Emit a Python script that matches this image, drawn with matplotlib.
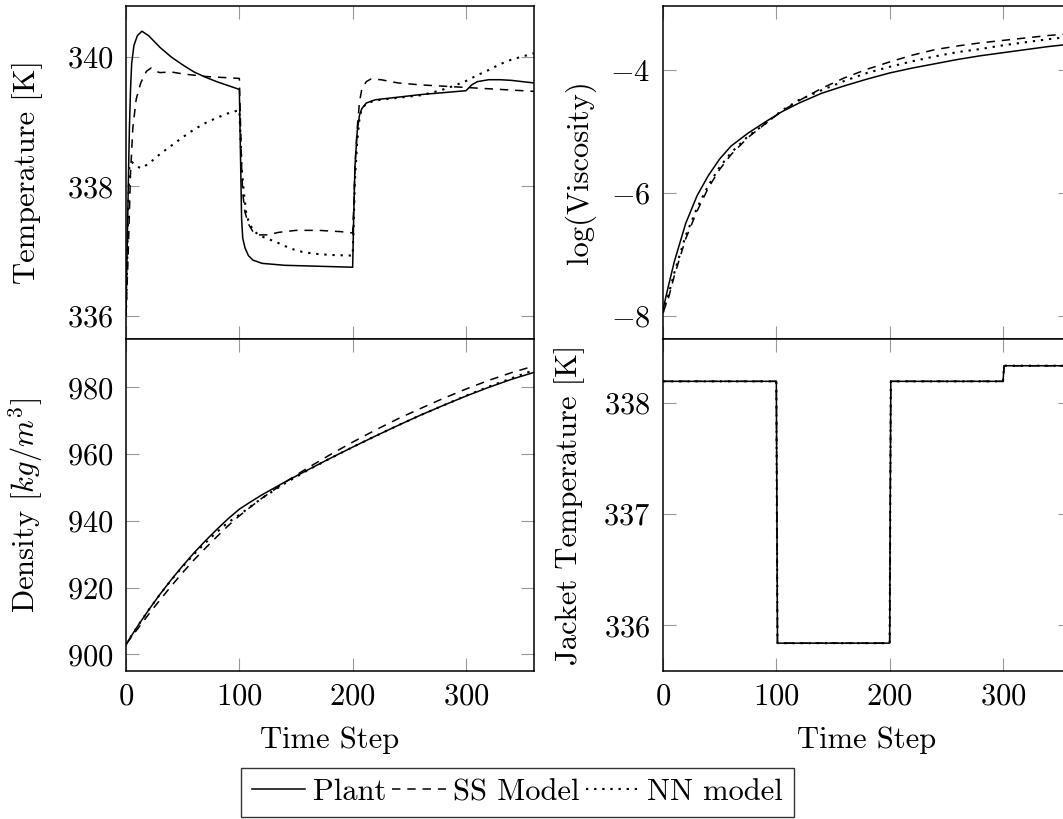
import matplotlib
matplotlib.use("Agg")
import matplotlib.pyplot as plt

plt.rcParams['font.family'] = 'serif'
plt.rcParams['font.serif'] = ['cmr10']
plt.rcParams['mathtext.fontset'] = 'cm'
plt.rcParams['axes.formatter.use_mathtext'] = True
plt.rcParams['font.size'] = 22

# ---- reactor temperature (top left) ----
temp_plant_t = [0, 1, 2, 3, 4, 5, 7, 10, 14, 20, 30, 40, 50, 60, 70, 80, 90, 100,
                101, 102, 103, 105, 108, 112, 120, 140, 160, 180, 200,
                201, 202, 204, 206, 208, 212, 220, 240, 260, 280, 300,
                305, 310, 320, 330, 340, 350, 360]
temp_plant = [336.05, 337.0, 338.0, 338.9, 339.5, 339.9, 340.18, 340.33, 340.4, 340.33,
              340.15, 340.0, 339.88, 339.77, 339.69, 339.62, 339.56, 339.5,
              338.5, 337.5, 337.2, 337.05, 336.93, 336.86, 336.81, 336.78, 336.77, 336.76, 336.75,
              337.6, 338.3, 338.85, 339.1, 339.2, 339.29, 339.34, 339.38, 339.42, 339.45, 339.48,
              339.57, 339.62, 339.65, 339.65, 339.64, 339.62, 339.6]

temp_ss_t = [0, 2, 4, 6, 9, 13, 18, 22, 26, 30, 40, 50, 60, 70, 80, 90, 100,
             101, 102, 103, 105, 108, 112, 118, 125, 135, 150, 170, 190, 200,
             201, 202, 204, 206, 208, 212, 216, 225, 240, 260, 280, 300, 320, 340, 360]
temp_ss = [336.0, 337.0, 338.2, 338.9, 339.35, 339.6, 339.78, 339.83, 339.78, 339.76,
           339.77, 339.74, 339.72, 339.7, 339.69, 339.68, 339.67,
           339.0, 338.3, 337.9, 337.6, 337.42, 337.3, 337.25, 337.25, 337.29, 337.32, 337.32, 337.3, 337.28,
           337.7, 338.3, 338.9, 339.3, 339.5, 339.62, 339.66, 339.65, 339.6, 339.57, 339.55, 339.53,
           339.51, 339.49, 339.47]

temp_nn_t = [0, 1, 2, 3, 5, 8, 13, 20, 30, 40, 50, 60, 70, 80, 90, 100,
             101, 102, 104, 106, 108, 112, 118, 125, 135, 145, 155, 165, 180, 200,
             201, 202, 204, 206, 208, 212, 220, 240, 260, 270, 280, 290, 300,
             310, 320, 330, 340, 350, 360]
temp_nn = [336.0, 336.8, 337.7, 338.3, 338.38, 338.33, 338.28, 338.35, 338.5, 338.63,
           338.76, 338.88, 338.98, 339.06, 339.13, 339.18,
           338.8, 338.3, 337.9, 337.6, 337.47, 337.32, 337.24, 337.19, 337.12, 337.04, 336.99,
           336.96, 336.94, 336.93,
           337.5, 338.1, 338.7, 339.05, 339.2, 339.28, 339.33, 339.37, 339.41, 339.45, 339.5,
           339.56, 339.63, 339.72, 339.8, 339.89, 339.96, 340.01, 340.06]

# ---- log viscosity (top right) ----
visc_t = [0, 5, 10, 20, 30, 40, 50, 60, 75, 90, 105, 120, 140, 160, 180, 200,
          220, 240, 260, 280, 300, 320, 340, 360]
visc_plant = [-7.9, -7.5, -7.12, -6.5, -6.05, -5.72, -5.45, -5.24, -5.03, -4.85, -4.68,
              -4.54, -4.38, -4.26, -4.15, -4.05, -3.97, -3.9, -3.83, -3.77, -3.72,
              -3.67, -3.62, -3.58]
visc_ss = [-7.95, -7.7, -7.35, -6.75, -6.3, -5.92, -5.62, -5.38, -5.1, -4.88, -4.67,
           -4.5, -4.3, -4.13, -3.99, -3.87, -3.76, -3.67, -3.61, -3.56, -3.52,
           -3.48, -3.44, -3.41]
visc_nn = [-7.95, -7.65, -7.3, -6.7, -6.25, -5.88, -5.58, -5.35, -5.08, -4.88, -4.66,
           -4.49, -4.33, -4.18, -4.05, -3.95, -3.86, -3.78, -3.71, -3.66, -3.6,
           -3.55, -3.5, -3.46]

# ---- density (bottom left) ----
dens_t = [0, 10, 20, 30, 40, 50, 60, 70, 80, 90, 100, 110, 120, 140, 160, 180, 200,
          220, 240, 260, 280, 300, 320, 340, 360]
dens_plant = [903, 908.3, 913.3, 918, 922.4, 926.5, 930.4, 934.0, 937.4, 940.6, 943.5,
              945.7, 947.8, 951.6, 955.2, 958.7, 962.1, 965.4, 968.6, 971.7, 974.6,
              977.4, 980, 982.4, 984.5]
dens_ss = [903, 907.5, 912, 916.3, 920.5, 924.5, 928.3, 931.8, 935.2, 938.5, 941.5,
           944.2, 946.8, 951.5, 955.8, 959.8, 963.6, 967.2, 970.6, 973.7, 976.7,
           979.5, 982.1, 984.4, 986.4]
dens_nn = [903, 908.3, 913.3, 918, 922.3, 926.3, 930, 933.4, 936.6, 939.5, 941.8,
           944.3, 946.8, 951.2, 955.1, 958.7, 962.1, 965.4, 968.6, 971.7, 974.6,
           977.5, 980.2, 982.7, 985.2]

# ---- jacket temperature (bottom right), same input for all three ----
jacket_t = [0, 100, 101, 200, 201, 300, 301, 360]
jacket_T = [338.19, 338.19, 335.84, 335.84, 338.19, 338.19, 338.33, 338.33]

labels = ['Plant', 'SS Model', 'NN model']
styles = [dict(color='black', lw=1.1),
          dict(color='black', lw=1.1, dashes=(5.5, 4.5)),
          dict(color='black', lw=1.5, dashes=(1.1, 2.8))]

W, H = 1063, 819
fig = plt.figure(figsize=(W / 100, H / 100), dpi=100)


def make_ax(x0, y0, x1, y1):
    ax = fig.add_axes([x0 / W, 1 - y1 / H, (x1 - x0) / W, (y1 - y0) / H])
    ax.tick_params(direction='in', which='both', top=True, right=True,
                   length=9.5, width=0.8, color='#999999', pad=9)
    for s in ax.spines.values():
        s.set_linewidth(1.1)
    ax.set_xlim(0, 360)
    ax.set_xticks([0, 100, 200, 300])
    return ax


ax_t = make_ax(126, 6, 534, 339)
ax_v = make_ax(663, 6, 1071, 339)
ax_d = make_ax(126, 339, 534, 671)
ax_j = make_ax(663, 339, 1071, 671)

for ax in (ax_t, ax_v):
    ax.tick_params(labelbottom=False)

lines = []
for x, y, st, lab in zip([temp_plant_t, temp_ss_t, temp_nn_t],
                         [temp_plant, temp_ss, temp_nn], styles, labels):
    ln, = ax_t.plot(x, y, label=lab, **st)
    lines.append(ln)
ax_t.set_ylim(335.64, 340.79)
ax_t.set_yticks([336, 338, 340])
ax_t.set_ylabel('Temperature [K]')

for y, st in zip([visc_plant, visc_ss, visc_nn], styles):
    ax_v.plot(visc_t, y, **st)
ax_v.set_ylim(-8.38, -2.96)
ax_v.set_yticks([-8, -6, -4])
ax_v.set_ylabel('log(Viscosity)')

for y, st in zip([dens_plant, dens_ss, dens_nn], styles):
    ax_d.plot(dens_t, y, **st)
ax_d.set_ylim(895.0, 994.5)
ax_d.set_yticks([900, 920, 940, 960, 980])
ax_d.set_ylabel('Density [$kg/m^3$]')
ax_d.set_xlabel('Time Step')

for st in styles:
    ax_j.plot(jacket_t, jacket_T, **st)
ax_j.set_ylim(335.59, 338.57)
ax_j.set_yticks([336, 337, 338])
ax_j.set_ylabel('Jacket Temperature [K]')
ax_j.set_xlabel('Time Step')

ax_t.yaxis.set_label_coords(-0.203, 0.5)
ax_d.yaxis.set_label_coords(-0.199, 0.5)
ax_v.yaxis.set_label_coords(-0.164, 0.5)
ax_j.yaxis.set_label_coords(-0.191, 0.5)
for ax in (ax_d, ax_j):
    ax.xaxis.set_label_coords(0.5, -0.166)

leg = fig.legend(lines, labels, ncol=3, loc='upper left',
                 bbox_to_anchor=(241 / W, 1 - 768 / H),
                 frameon=True, fancybox=False, edgecolor='black',
                 handlelength=1.75, handletextpad=0.25, columnspacing=0.2,
                 borderpad=0.35, borderaxespad=0)
leg.get_frame().set_linewidth(1.0)

fig.savefig('out.png', dpi=100)
